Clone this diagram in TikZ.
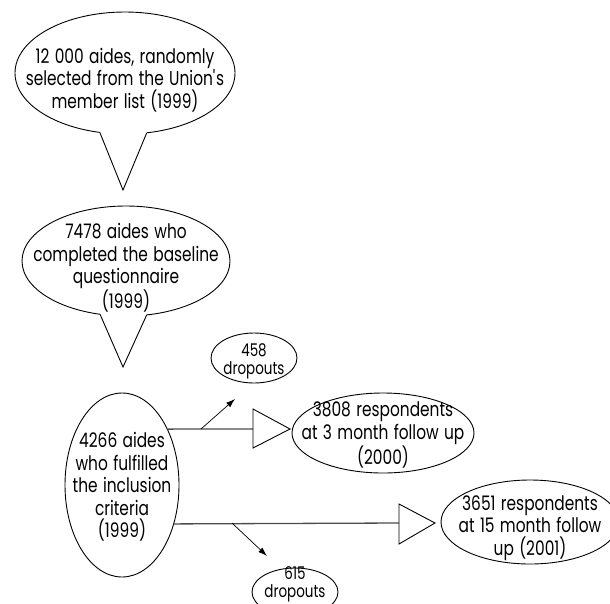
\documentclass[tikz,border=0pt]{standalone}
\usepackage{fontspec}
\setmainfont{Poppins}[FakeStretch=0.77,WordSpace=1.3]
\usetikzlibrary{shapes.geometric,arrows.meta}
\begin{document}
\begin{tikzpicture}[x=1pt,y=-1pt,
  bub/.style={draw, ellipse, inner sep=0pt, outer sep=0pt, line width=0.9pt},
  txt/.style={align=center, inner sep=0pt, font=\fontsize{20}{22.5}\selectfont},
  small/.style={align=center, inner sep=0pt, font=\fontsize{17.5}{18}\selectfont},
  hline/.style={line width=1.3pt, draw=black!70},
  arr/.style={line width=0.7pt, -{Latex[length=9pt,width=6pt]}},
  tri/.style={draw, line width=0.9pt, fill=white, line join=miter}]
\useasboundingbox (0,0) rectangle (610,603);

% first bubble
\node[bub, minimum width=220pt, minimum height=122pt] (E1) at (125,73) {};
\coordinate (tip1) at (123,190);
\fill[white] (E1.247) -- ++(0,-9) -| (E1.290) -- (tip1) -- cycle;
\draw[line width=0.9pt] (E1.247) -- (tip1) -- (E1.290);
\node[txt] (T1) at (125,80) {12 000 aides, randomly\\selected from the Union\textquotesingle s\\member list (1999)};

% second bubble
\node[bub, minimum width=208pt, minimum height=110pt] (E2) at (126,261) {};
\coordinate (tip2) at (123,367);
\fill[white] (E2.244) -- ++(0,-9) -| (E2.291.6) -- (tip2) -- cycle;
\draw[line width=0.9pt] (E2.244) -- (tip2) -- (E2.291.6);
\node[txt] (T2) at (126,268) {7478 aides who\\completed the baseline\\questionnaire\\(1999)};

% inclusion
\node[bub, minimum width=114pt, minimum height=184pt] (E3) at (122,485) {};
\node[txt] (T3) at (122,487) {4266 aides\\who fulfilled\\the inclusion\\criteria\\(1999)};

% 3 month
\node[bub, minimum width=182pt, minimum height=80pt] (E4) at (383,433) {};
\node[txt] (T4) at (383,435) {3808 respondents\\at 3 month follow up\\(2000)};

% 458 dropouts
\node[bub, minimum width=86pt, minimum height=50pt] (E5) at (254,358) {};
\node[small] (T5) at (254,361) {458\\dropouts};

% 15 month
\node[bub, minimum width=178pt, minimum height=84pt] (E6) at (530,522) {};
\node[txt] (T6) at (530,528) {3651 respondents\\at 15 month follow\\up (2001)};

% 615 dropouts
\node[bub, minimum width=86pt, minimum height=48pt] (E7) at (295,592) {};
\node[small] (T7) at (295,584) {615\\dropouts};

% connectors
\coordinate (t1b) at (253,429);
\coordinate (t2b) at (399,523);
\draw[hline] (E3.51.1) -- (t1b);
\draw[hline] (E3.323.8) -- (t2b);
\draw[tri] (253,409) -- (290,429) -- (253,448) -- cycle;
\draw[tri] (399,504) -- (435,523) -- (399,544) -- cycle;

\coordinate (a1s) at (201,429);
\coordinate (a1e) at (235,399);
\coordinate (a2s) at (232,523);
\coordinate (a2e) at (267,556);
\draw[arr] (a1s) -- (a1e);
\draw[arr] (a2s) -- (a2e);
\end{tikzpicture}
\end{document}
